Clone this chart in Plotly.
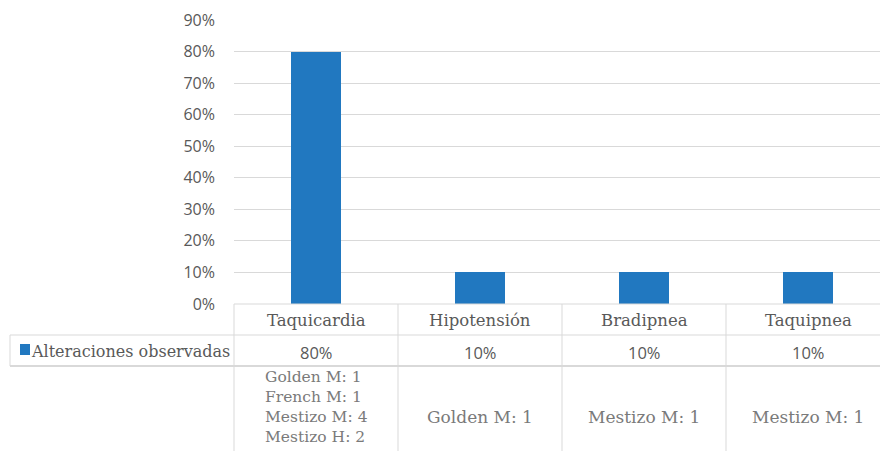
import plotly.graph_objects as go

# Chart data
categories = ["Taquicardia", "Hipotensión", "Bradipnea", "Taquipnea"]
values = [0.80, 0.10, 0.10, 0.10]
series_name = "Alteraciones observadas"
breed_notes = [
    ["Golden M: 1", "French M: 1", "Mestizo M: 4", "Mestizo H: 2"],
    ["Golden M: 1"],
    ["Mestizo M: 1"],
    ["Mestizo M: 1"],
]
y_ticks = [0, 0.1, 0.2, 0.3, 0.4, 0.5, 0.6, 0.7, 0.8, 0.9]

W, H = 880, 451
BAR_COLOR = "#2178c0"
TEXT_GRAY = "#595959"
NOTE_GRAY = "#7a7a7a"
GRID = "#d9d9d9"
SANS = "Open Sans, Liberation Sans, sans-serif"
SERIF = "DejaVu Serif, Liberation Serif, serif"

# plot-area geometry (pixels)
left, top, bottom = 234, 20, 304
cat_w = 164.0
x_hi = -0.5 + (W - left) / cat_w
plot_w, plot_h = W - left, bottom - top

fig = go.Figure()
fig.add_trace(go.Bar(
    x=list(range(len(categories))), y=values, name=series_name,
    marker=dict(color=BAR_COLOR, line=dict(width=0)),
    width=0.31, showlegend=False,
))

# pixel -> paper (plot-area-relative) coordinates
def px_x(p):
    return (p - left) / plot_w

def px_y(p):
    return (bottom - p) / plot_h

shapes = []
def hline(x0, x1, y, width=1, color=GRID):
    shapes.append(dict(type="line", xref="paper", yref="paper",
                       x0=px_x(x0), x1=px_x(x1), y0=px_y(y), y1=px_y(y),
                       line=dict(color=color, width=width)))

def vline(x, y0, y1, width=1, color=GRID):
    shapes.append(dict(type="line", xref="paper", yref="paper",
                       x0=px_x(x), x1=px_x(x), y0=px_y(y0), y1=px_y(y1),
                       line=dict(color=color, width=width)))

row1_top, row2_top, row3_top = bottom, 335, 366
legend_left = 10

# table grid
hline(left, W, row1_top)
hline(legend_left, W, row2_top)
hline(legend_left, W, row3_top, width=2)
vline(legend_left, row2_top, row3_top)
for i in range(len(categories)):
    vline(left + cat_w * i, row1_top, H)

# legend key
shapes.append(dict(type="rect", xref="paper", yref="paper",
                   x0=px_x(20), x1=px_x(30), y0=px_y(355), y1=px_y(344),
                   fillcolor=BAR_COLOR, line=dict(width=0)))

annotations = []
annotations.append(dict(xref="paper", yref="paper", x=px_x(29), y=px_y(351),
                        text=series_name, showarrow=False, xanchor="left",
                        yanchor="middle",
                        font=dict(family=SERIF, size=16, color=TEXT_GRAY)))

for i, (cat, v, notes) in enumerate(zip(categories, values, breed_notes)):
    cx = left + cat_w * (i + 0.5)
    multi = len(notes) > 1
    annotations.append(dict(xref="paper", yref="paper", x=px_x(cx),
                            y=px_y(320), text=cat, showarrow=False,
                            xanchor="center", yanchor="middle",
                            font=dict(family=SERIF, size=16.5, color=TEXT_GRAY)))
    annotations.append(dict(xref="paper", yref="paper", x=px_x(cx),
                            y=px_y(352), text=f"{v:.0%}", showarrow=False,
                            xanchor="center", yanchor="middle",
                            font=dict(family=SANS, size=16.5, color=TEXT_GRAY)))
    annotations.append(dict(xref="paper", yref="paper", x=px_x(cx),
                            y=px_y(407 if multi else 417),
                            text="<br>".join(notes), showarrow=False,
                            xanchor="center", yanchor="middle", align="left",
                            font=dict(family=SERIF, size=15.5 if multi else 17,
                                      color=NOTE_GRAY)))

fig.update_layout(
    width=W, height=H,
    margin=dict(l=left, r=0, t=top, b=H - bottom, pad=0),
    paper_bgcolor="white", plot_bgcolor="white",
    bargap=0,
    xaxis=dict(range=[-0.5, x_hi], showticklabels=False, showgrid=False,
               zeroline=False, showline=False, fixedrange=True),
    yaxis=dict(range=[0, 0.9], tickvals=y_ticks, tickformat=".0%",
               showgrid=True, gridcolor=GRID, gridwidth=1, zeroline=False,
               showline=False, ticks="", ticklabelstandoff=18,
               tickfont=dict(family=SANS, size=16, color=TEXT_GRAY),
               fixedrange=True),
    shapes=shapes, annotations=annotations,
)

fig.write_html("out.html", config={"displayModeBar": False})
